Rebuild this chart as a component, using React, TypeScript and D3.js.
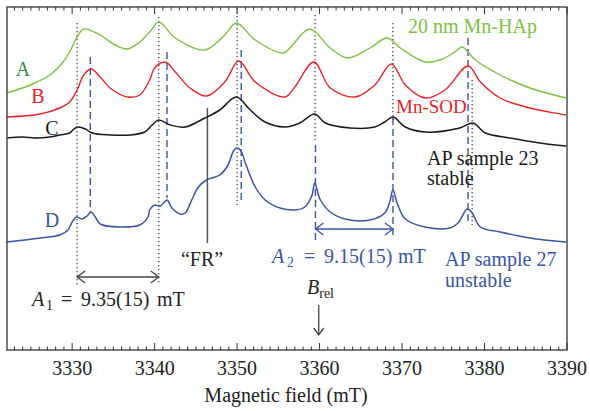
import React from "react";
import * as d3 from "d3";

const W = 590;
const H = 411;
const box = { left: 7, right: 567, top: 7, bottom: 350 };

// x axis
const fieldDomain = [3322.1, 3390];
const xTicks = [3330, 3340, 3350, 3360, 3370, 3380, 3390];
const xTitle = "Magnetic field (mT)";

// spectra, [field (mT), signal (a.u.)]
const specA: [number, number][] = [
  [3322.1, 257], [3324.9, 265], [3327.3, 275], [3328.9, 288], [3329.7, 298], [3330.6, 313],
  [3331.4, 321], [3333.4, 315], [3335.2, 305], [3336.7, 301], [3338.2, 308], [3339.4, 318],
  [3340.5, 328], [3342.5, 312], [3346.1, 300], [3348.5, 315], [3349.9, 327], [3352.2, 310],
  [3355.6, 297], [3356.4, 302], [3358.8, 321], [3361.3, 302], [3363.4, 292], [3366.1, 302],
  [3368.2, 312], [3369.8, 302], [3372.8, 288], [3374.6, 290], [3376.4, 298], [3377.3, 303],
  [3378.9, 290], [3381.9, 275], [3385.5, 262], [3389.9, 252],
];
const specB: [number, number][] = [
  [3322.1, 233], [3326.1, 236], [3328.5, 242], [3329.7, 248], [3330.6, 260], [3331.4, 275],
  [3332.3, 281], [3333.4, 273], [3334.6, 262], [3336.7, 253], [3338.2, 255], [3339.4, 270],
  [3340.0, 282], [3341.3, 288], [3342.5, 278], [3344.3, 262], [3346.3, 254], [3348.5, 268],
  [3350.2, 289], [3352.2, 268], [3355.8, 253], [3357.0, 263], [3359.3, 288], [3361.3, 262],
  [3364.3, 253], [3366.7, 265], [3368.7, 286], [3370.4, 265], [3372.8, 252], [3375.2, 260],
  [3378.0, 284], [3379.5, 268], [3381.9, 252], [3385.5, 242], [3389.9, 235],
];
const specC: [number, number][] = [
  [3322.1, 212], [3324.0, 213], [3325.5, 212], [3327.3, 213], [3328.5, 215], [3329.7, 217],
  [3330.2, 221], [3330.7, 223], [3331.6, 221], [3332.4, 217], [3334.6, 215], [3337.0, 215],
  [3338.8, 218], [3339.7, 225], [3340.5, 230], [3341.9, 225], [3343.7, 223], [3346.1, 232],
  [3347.9, 240], [3349.9, 253], [3351.6, 240], [3353.4, 228], [3355.8, 223], [3357.6, 227],
  [3359.4, 236], [3360.7, 227], [3363.7, 222], [3366.7, 223], [3367.9, 228], [3368.9, 233],
  [3370.4, 223], [3372.8, 218], [3377.0, 222], [3378.6, 227], [3380.1, 217], [3383.1, 212],
  [3386.7, 207], [3389.9, 204],
];
const specD: [number, number][] = [
  [3322.1, 108], [3326.1, 112], [3328.5, 115], [3329.5, 120], [3330.0, 128], [3330.5, 133],
  [3331.2, 131], [3331.8, 134], [3332.3, 138], [3332.8, 133], [3333.4, 126], [3335.8, 123],
  [3338.2, 125], [3339.2, 133], [3339.4, 140], [3340.0, 145], [3340.7, 144], [3341.5, 150],
  [3342.1, 142], [3343.1, 136], [3343.7, 137], [3344.5, 150], [3345.3, 163], [3346.3, 170],
  [3347.9, 175], [3348.9, 185], [3349.5, 198], [3349.9, 202], [3350.4, 200], [3351.0, 187],
  [3352.2, 163], [3353.4, 150], [3355.2, 142], [3357.0, 140], [3358.2, 143], [3359.1, 155],
  [3359.4, 167], [3360.1, 150], [3361.3, 138], [3363.1, 131], [3366.1, 130], [3367.9, 137],
  [3368.5, 148], [3368.9, 160], [3369.4, 147], [3370.4, 131], [3372.8, 123], [3375.8, 122],
  [3376.8, 127], [3377.9, 141], [3378.5, 137], [3379.5, 123], [3381.9, 118], [3385.5, 112],
  [3389.9, 108],
];

// reference lines: [field, signal top, signal bottom]
const dottedLines: [number, number, number][] = [
  [3330.6, 327, 65], [3340.5, 333, 65], [3350.0, 342, 145],
  [3359.45, 335, 210], [3368.9, 327, 230], [3378.5, 270, 125],
];
const dashedLines: [number, number, number][] = [
  [3332.2, 293, 137], [3341.5, 298, 152], [3350.5, 300, 150],
  [3359.5, 205, 110], [3368.9, 232, 112], [3378.0, 312, 125],
];

const colA = "#7dc242";
const colB = "#ec2227";
const colC = "#1a1a1a";
const colD = "#3a54a6";

export default function App() {
  const x = d3.scaleLinear().domain(fieldDomain).range([box.left, box.right]);
  const y = d3.scaleLinear().domain([0, 343]).range([box.bottom, box.top]);
  const line = d3
    .line<[number, number]>()
    .x((d) => x(d[0]))
    .y((d) => y(d[1]))
    .curve(d3.curveCatmullRom.alpha(0.5));

  const minor = x.ticks(70);
  const font = "'Liberation Serif', 'Times New Roman', serif";

  const chevron = (px: number, py: number, dir: number) =>
    `M${px + dir * 8},${py - 6}L${px},${py}L${px + dir * 8},${py + 6}`;

  const a1 = { x1: x(3330.6), x2: x(3340.5), y: y(73) };
  const a2 = { x1: x(3359.5), x2: x(3368.9), y: y(121) };
  const br = x(3359.9);

  return (
    <svg width={W} height={H} style={{ position: "absolute", left: 0, top: 0, background: "#fff" }}>
      {/* reference lines */}
      {dottedLines.map((d, i) => (
        <line key={"dt" + i} x1={x(d[0])} x2={x(d[0])} y1={y(d[1])} y2={y(d[2])}
          stroke="#333" strokeWidth={1.2} strokeDasharray="1.2,2.8" />
      ))}
      {dashedLines.map((d, i) => (
        <line key={"ds" + i} x1={x(d[0])} x2={x(d[0])} y1={y(d[1])} y2={y(d[2])}
          stroke={colD} strokeWidth={1.4} strokeDasharray="7,4" />
      ))}
      <line x1={x(3346.4)} x2={x(3346.4)} y1={y(242)} y2={y(107)} stroke="#555" strokeWidth={1.5} />

      {/* spectra */}
      <path d={line(specA) ?? ""} fill="none" stroke={colA} strokeWidth={1.4} />
      <path d={line(specB) ?? ""} fill="none" stroke={colB} strokeWidth={1.4} />
      <path d={line(specC) ?? ""} fill="none" stroke={colC} strokeWidth={1.5} />
      <path d={line(specD) ?? ""} fill="none" stroke={colD} strokeWidth={1.5} />

      {/* frame + ticks */}
      <rect x={box.left} y={box.top} width={box.right - box.left} height={box.bottom - box.top}
        fill="none" stroke="#333" strokeWidth={1.3} />
      {minor.map((t) => {
        const len = t % 10 === 0 ? 7 : 3.5;
        return (
          <g key={"t" + t}>
            <line x1={x(t)} x2={x(t)} y1={box.bottom} y2={box.bottom - len} stroke="#333" strokeWidth={1} />
            <line x1={x(t)} x2={x(t)} y1={box.top} y2={box.top + len} stroke="#333" strokeWidth={1} />
          </g>
        );
      })}
      {xTicks.map((t) => (
        <text key={"l" + t} x={x(t)} y={375} textAnchor="middle" fontFamily={font} fontSize={20} fill="#222">
          {t}
        </text>
      ))}
      <text x={286} y={402} textAnchor="middle" fontFamily={font} fontSize={20} fill="#222">{xTitle}</text>

      {/* arrows */}
      <g stroke="#444" strokeWidth={1.3} fill="none">
        <line x1={a1.x1} x2={a1.x2} y1={a1.y} y2={a1.y} />
        <path d={chevron(a1.x1, a1.y, 1)} />
        <path d={chevron(a1.x2, a1.y, -1)} />
        <line x1={br} x2={br} y1={y(45)} y2={y(15)} />
        <path d={`M${br - 5},${y(22)}L${br},${y(15)}L${br + 5},${y(22)}`} />
      </g>
      <g stroke={colD} strokeWidth={1.3} fill="none">
        <line x1={a2.x1} x2={a2.x2} y1={a2.y} y2={a2.y} />
        <path d={chevron(a2.x1, a2.y, 1)} />
        <path d={chevron(a2.x2, a2.y, -1)} />
      </g>

      {/* labels */}
      <g fontFamily={font} fontSize={20}>
        <text x={23} y={76} textAnchor="middle" fill="#2f8d3e">A</text>
        <text x={38} y={103} textAnchor="middle" fill={colB}>B</text>
        <text x={52} y={135} textAnchor="middle" fill={colC}>C</text>
        <text x={52} y={227} textAnchor="middle" fill={colD}>D</text>
        <text x={408} y={33} fill={colA}>20 nm Mn-HAp</text>
        <text x={396} y={113} fill={colB} fontSize={19}>Mn-SOD</text>
        <text x={427} y={165} fill={colC}>AP sample 23</text>
        <text x={427} y={185} fill={colC}>stable</text>
        <text x={445} y={266} fill={colD}>AP sample 27</text>
        <text x={445} y={287} fill={colD}>unstable</text>
        <text x={202} y={266} textAnchor="middle" fill="#222">“FR”</text>
        <g fill="#222">
          <text x={32} y={306} fontStyle="italic">A</text>
          <text x={46} y={310} fontSize={14}>1</text>
          <text x={61} y={306}>=</text>
          <text x={81} y={306}>9.35(15)</text>
          <text x={157} y={306}>mT</text>
        </g>
        <g fill={colD}>
          <text x={272} y={263} fontStyle="italic">A</text>
          <text x={287} y={267} fontSize={14}>2</text>
          <text x={304} y={263}>=</text>
          <text x={324} y={263}>9.15(15)</text>
          <text x={398} y={263}>mT</text>
        </g>
        <text x={307} y={294} fill="#222">
          <tspan fontStyle="italic">B</tspan>
          <tspan fontSize={14} dy={4}>rel</tspan>
        </text>
      </g>
    </svg>
  );
}
